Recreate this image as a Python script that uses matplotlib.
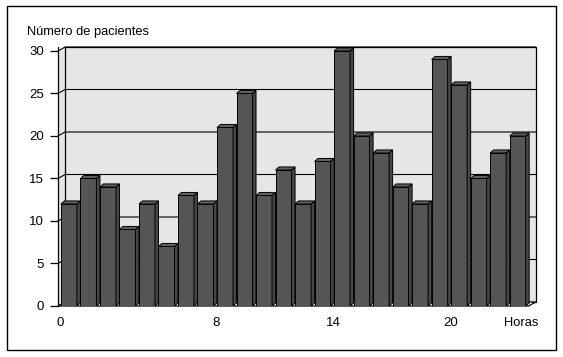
import matplotlib.pyplot as plt
from matplotlib.patches import Rectangle, Polygon

plt.rcParams['font.family'] = ['Liberation Sans', 'DejaVu Sans']

horas = list(range(24))
pacientes = [12, 15, 14, 9, 12, 7, 13, 12, 21, 25, 13, 16,
             12, 17, 30, 20, 18, 14, 12, 29, 26, 15, 18, 20]
xtick_horas = [0, 8, 14, 20]
yticks = [0, 5, 10, 15, 20, 25, 30]

W, H = 563, 357
fig = plt.figure(figsize=(W / 100, H / 100), dpi=100)

# pseudo-3d geometry (data units)
xL, xR = -0.56, 23.56      # front floor edge
wdx, wdy = 0.36, 0.47      # wall depth
w = 0.82                   # bar front width
bdx, bdy = 0.18, 0.36      # bar depth
ymax = 30

ax = fig.add_axes([58 / W, 1 - 306 / H, (536 - 58) / W, (306 - 47) / H])
ax.set_xlim(xL, xR + wdx + 0.02)
ax.set_ylim(0, ymax + wdy)
for s in ['top', 'right', 'bottom']:
    ax.spines[s].set_visible(False)
ax.spines['left'].set_linewidth(0.9)

wall = '#e6e6e6'
# side wall
ax.add_patch(Polygon([(xL, 0), (xL + wdx, wdy), (xL + wdx, ymax + wdy), (xL, ymax)],
                     closed=True, fc=wall, ec='none', zorder=1))
# back wall
ax.add_patch(Rectangle((xL + wdx, wdy), xR - xL, ymax, fc=wall, ec='black', lw=0.9,
                       zorder=1, clip_on=False))
# gridlines
for v in yticks[1:]:
    ax.plot([xL, xL + wdx, xR + wdx], [v, v + wdy, v + wdy], color='black', lw=0.8,
            zorder=2, clip_on=False)
# floor
ax.add_patch(Polygon([(xL, 0), (xR, 0), (xR + wdx, wdy), (xL + wdx, wdy)], closed=True,
                     fc='white', ec='black', lw=0.9, zorder=2, clip_on=False))

front_c, side_c, top_c = '#555555', '#474747', '#606060'
for i, v in zip(horas, pacientes):
    x0, x1 = i - w / 2, i + w / 2
    ax.add_patch(Rectangle((x0, 0), w, v, fc=front_c, ec='black', lw=0.7, zorder=3))
    ax.add_patch(Polygon([(x1, 0), (x1 + bdx, bdy), (x1 + bdx, v + bdy), (x1, v)],
                         closed=True, fc=side_c, ec='black', lw=0.7, zorder=3))
    ax.add_patch(Polygon([(x0, v), (x1, v), (x1 + bdx, v + bdy), (x0 + bdx, v + bdy)],
                         closed=True, fc=top_c, ec='black', lw=0.7, zorder=3))

ax.set_yticks(yticks)
ax.set_yticklabels([str(t) for t in yticks], fontsize=9.5)
ax.tick_params(axis='y', direction='out', length=6, width=0.9, pad=4)
ax.set_xticks([h - 0.45 for h in xtick_horas])
ax.set_xticklabels([str(h) for h in xtick_horas], fontsize=9.5)
ax.tick_params(axis='x', length=0, pad=8)

fig.text(27 / W, 1 - 32 / H, 'Número de pacientes', fontsize=9.3, ha='left', va='center')
fig.text(504 / W, 1 - 323 / H, 'Horas', fontsize=9.3, ha='left', va='center')

# outer frame
fig.add_artist(Rectangle((7 / W, 1 - 350 / H), (556 - 7) / W, (350 - 6) / H,
                         transform=fig.transFigure, fill=False, ec='black', lw=1.0))

fig.savefig('out.png', dpi=100)
